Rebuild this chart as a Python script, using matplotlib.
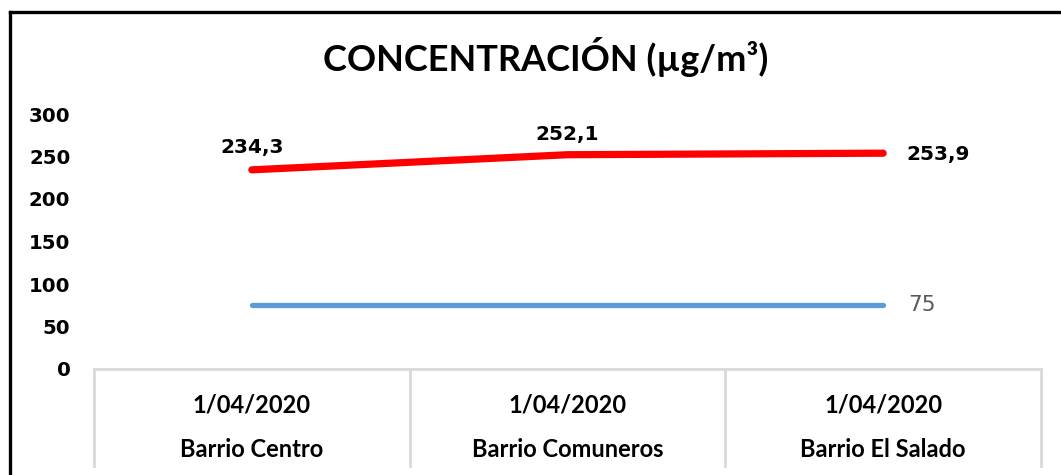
import matplotlib.pyplot as plt
from matplotlib.lines import Line2D

# data
dates = ["1/04/2020", "1/04/2020", "1/04/2020"]
places = ["Barrio Centro", "Barrio Comuneros", "Barrio El Salado"]
concentration = [234.3, 252.1, 253.9]
limit = [75, 75, 75]
y_ticks = [0, 50, 100, 150, 200, 250, 300]

W, H = 1061, 475
fig = plt.figure(figsize=(W / 100, H / 100), dpi=100)

# axes: x from 94 to 1041 px, y 0 at 369 px, 300 at 114 px
ax = fig.add_axes([94 / W, 1 - 369 / H, (1041 - 94) / W, (369 - 114) / H])
ax.set_xlim(-0.5, 2.5)
ax.set_ylim(0, 300)
for s in ax.spines.values():
    s.set_visible(False)

x = list(range(len(places)))
ax.plot(x, limit, color="#5b9bd5", lw=3.8, solid_capstyle="round", zorder=3)
ax.plot(x, concentration, color="#ff0000", lw=5.2, solid_capstyle="round", zorder=4)

# data labels
lbl = dict(fontsize=14.5, fontweight="bold", family="DejaVu Sans", color="black")
ax.annotate("234,3", (x[0], concentration[0]), xytext=(0, 9), textcoords="offset points",
            ha="center", va="bottom", **lbl)
ax.annotate("252,1", (x[1], concentration[1]), xytext=(0, 8), textcoords="offset points",
            ha="center", va="bottom", **lbl)
ax.annotate("253,9", (x[2], concentration[2]), xytext=(17, -1), textcoords="offset points",
            ha="left", va="center", **lbl)
ax.annotate("75", (x[2], limit[2]), xytext=(18, 0), textcoords="offset points",
            ha="left", va="center", fontsize=15.5, family="DejaVu Sans", color="#595959")

# y ticks
ax.set_yticks(y_ticks)
ax.set_yticklabels([str(v) for v in y_ticks], fontsize=14.2, fontweight="bold",
                   family="DejaVu Sans")
ax.tick_params(axis="y", length=0, pad=17)
ax.set_xticks([])

# category box below the axis
grey = "#d9d9d9"
box_bottom = -0.38  # axes fraction, ~466 px
ax.add_line(Line2D([0, 1], [0, 0], transform=ax.transAxes, color=grey, lw=2, clip_on=False))
for b in [-0.5, 0.5, 1.5, 2.5]:
    ax.plot([b, b], [0, box_bottom], transform=ax.get_xaxis_transform(),
            color=grey, lw=2, clip_on=False)
for i in x:
    ax.text(i, -0.14, dates[i], transform=ax.get_xaxis_transform(), ha="center",
            va="center", fontsize=17, fontweight="bold", family="Lato")
    ax.text(i, -0.315, places[i], transform=ax.get_xaxis_transform(), ha="center",
            va="center", fontsize=17, fontweight="bold", family="Lato")

fig.text(546 / W, 1 - 57 / H, "CONCENTRACIÓN (µg/m³)", ha="center", va="center",
         fontsize=26, fontweight="bold", family="Lato")

# chart border (only top and left visible in the crop)
fig.add_artist(Line2D([9.5 / W, 9.5 / W], [0, 1 - 11.5 / H], color="black", lw=2.4))
fig.add_artist(Line2D([9.5 / W, 1], [1 - 11.5 / H, 1 - 11.5 / H], color="black", lw=2.4))

fig.savefig("out.png", dpi=100)
